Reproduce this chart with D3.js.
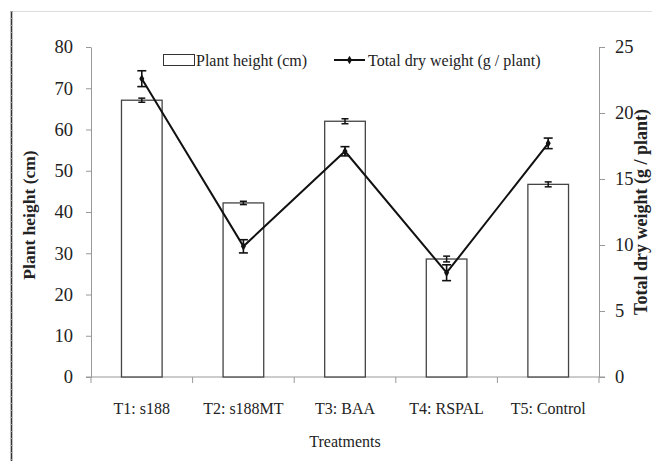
<!DOCTYPE html>
<html>
<head>
<meta charset="utf-8">
<script src="https://cdn.jsdelivr.net/npm/d3@7"></script>
<style>
  body { margin: 0; background: #fff; }
  svg { font-family: "Liberation Serif", "Times New Roman", serif; }
</style>
</head>
<body>
<svg id="chart" width="652" height="461"></svg>
<script>
// data
var categories = ["T1: s188", "T2: s188MT", "T3: BAA", "T4: RSPAL", "T5: Control"];
var plantHeight = [67.1, 42.2, 62.0, 28.6, 46.7];
var plantHeightErr = [0.5, 0.4, 0.6, 0.7, 0.6];
var dryWeight = [22.6, 9.9, 17.1, 7.9, 17.7];
var dryWeightErr = [0.6, 0.5, 0.35, 0.6, 0.4];
var leftTicks = [0, 10, 20, 30, 40, 50, 60, 70, 80];
var rightTicks = [0, 5, 10, 15, 20, 25];

var svg = d3.select("#chart");
var plotL = 91, plotR = 599, plotT = 47, plotB = 377;

// frame lines of the original figure
svg.append("line").attr("x1", 12).attr("x2", 652).attr("y1", 11.5).attr("y2", 11.5)
  .attr("stroke", "#ddd").attr("stroke-width", 1);
svg.append("line").attr("x1", 11.5).attr("x2", 11.5).attr("y1", 11).attr("y2", 461)
  .attr("stroke", "#333").attr("stroke-width", 1.6);
svg.append("line").attr("x1", 11.5).attr("x2", 11.5).attr("y1", 11).attr("y2", 461)
  .attr("stroke", "#999").attr("stroke-width", 1.6).attr("stroke-dasharray", "1,6");

var x = d3.scaleBand().domain(categories).range([plotL, plotR])
  .paddingInner(0.6).paddingOuter(0.3);
var yL = d3.scaleLinear().domain([0, 80]).range([plotB, plotT]);
var yR = d3.scaleLinear().domain([0, 25]).range([plotB, plotT]);

var axisColor = "#999";

// left axis
var gL = svg.append("g").attr("transform", "translate(" + plotL + ",0)")
  .call(d3.axisLeft(yL).tickValues(leftTicks).tickSize(5).tickSizeOuter(0).tickPadding(13));
gL.selectAll("text").attr("font-size", 18.5).attr("fill", "#222")
  .attr("font-family", "Liberation Serif");

// right axis
var gR = svg.append("g").attr("transform", "translate(" + plotR + ",0)")
  .call(d3.axisRight(yR).tickValues(rightTicks).tickSize(6).tickSizeOuter(0).tickPadding(10));
gR.selectAll("text").attr("font-size", 18.5).attr("fill", "#222")
  .attr("font-family", "Liberation Serif");

[gL, gR].forEach(function(g) {
  g.select(".domain").attr("stroke", axisColor);
  g.selectAll(".tick line").attr("stroke", axisColor);
});

// bottom axis: line + ticks at band boundaries
svg.append("line").attr("x1", plotL - 5).attr("x2", plotR + 6).attr("y1", plotB).attr("y2", plotB)
  .attr("stroke", axisColor);
var bounds = d3.range(categories.length + 1).map(function(i) { return plotL + i * x.step(); });
svg.selectAll(".xtick").data(bounds).enter().append("line")
  .attr("x1", function(d) { return d; }).attr("x2", function(d) { return d; })
  .attr("y1", plotB).attr("y2", plotB + 6).attr("stroke", axisColor);

svg.selectAll(".xlab").data(categories).enter().append("text")
  .attr("x", function(d) { return x(d) + x.bandwidth() / 2; })
  .attr("y", 414)
  .attr("text-anchor", "middle").attr("font-size", 16).attr("fill", "#222")
  .text(function(d) { return d; });

// bars
svg.selectAll(".bar").data(plantHeight).enter().append("rect")
  .attr("x", function(d, i) { return x(categories[i]); })
  .attr("y", function(d) { return yL(d); })
  .attr("width", x.bandwidth())
  .attr("height", function(d) { return plotB - yL(d); })
  .attr("fill", "#fff").attr("stroke", "#444").attr("stroke-width", 1.3);

function errorBars(vals, errs, scale, cap, width) {
  var g = svg.append("g").attr("stroke", "#111").attr("stroke-width", width);
  vals.forEach(function(v, i) {
    var cx = x(categories[i]) + x.bandwidth() / 2;
    var y1 = scale(v + errs[i]), y2 = scale(v - errs[i]);
    g.append("line").attr("x1", cx).attr("x2", cx).attr("y1", y1).attr("y2", y2);
    g.append("line").attr("x1", cx - cap).attr("x2", cx + cap).attr("y1", y1).attr("y2", y1);
    g.append("line").attr("x1", cx - cap).attr("x2", cx + cap).attr("y1", y2).attr("y2", y2);
  });
}
errorBars(plantHeight, plantHeightErr, yL, 3.5, 1.5);

// line series
var line = d3.line()
  .x(function(d, i) { return x(categories[i]) + x.bandwidth() / 2; })
  .y(function(d) { return yR(d); });
svg.append("path").datum(dryWeight).attr("d", line)
  .attr("fill", "none").attr("stroke", "#111").attr("stroke-width", 2);
errorBars(dryWeight, dryWeightErr, yR, 4.5, 1.6);
var diamond = d3.symbol().type(d3.symbolDiamond).size(22);
svg.selectAll(".pt").data(dryWeight).enter().append("path")
  .attr("d", diamond)
  .attr("transform", function(d, i) {
    return "translate(" + (x(categories[i]) + x.bandwidth() / 2) + "," + yR(d) + ")";
  })
  .attr("fill", "#111");

// legend
svg.append("rect").attr("x", 163.5).attr("y", 54.5).attr("width", 31).attr("height", 11)
  .attr("fill", "#fff").attr("stroke", "#333");
svg.append("text").attr("x", 196).attr("y", 66).attr("font-size", 16).attr("fill", "#222")
  .text("Plant height (cm)");
svg.append("line").attr("x1", 334).attr("x2", 365).attr("y1", 60).attr("y2", 60)
  .attr("stroke", "#111").attr("stroke-width", 2);
svg.append("path").attr("d", diamond).attr("transform", "translate(349.5,60)").attr("fill", "#111");
svg.append("text").attr("x", 368).attr("y", 66).attr("font-size", 16).attr("fill", "#222")
  .text("Total dry weight (g / plant)");

// axis titles
svg.append("text").attr("transform", "translate(35,215) rotate(-90)")
  .attr("text-anchor", "middle").attr("font-size", 17.5).attr("font-weight", "bold").attr("fill", "#222")
  .text("Plant height (cm)");
svg.append("text").attr("transform", "translate(647,212) rotate(-90)")
  .attr("text-anchor", "middle").attr("font-size", 18).attr("font-weight", "bold").attr("fill", "#222")
  .text("Total dry weight (g / plant)");
svg.append("text").attr("x", 345).attr("y", 447)
  .attr("text-anchor", "middle").attr("font-size", 16).attr("fill", "#222")
  .text("Treatments");
</script>
</body>
</html>
